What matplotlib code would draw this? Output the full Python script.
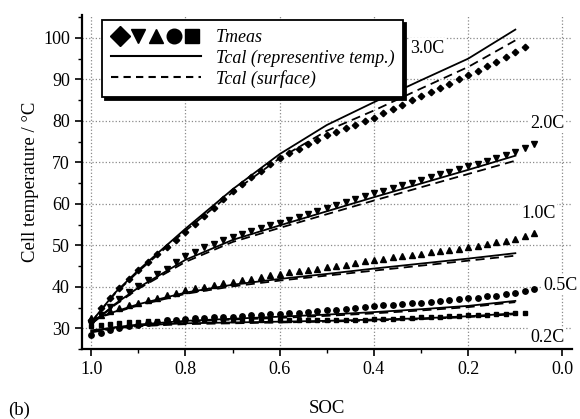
import matplotlib
matplotlib.use('Agg')
import matplotlib.pyplot as plt
from matplotlib.lines import Line2D
from matplotlib.legend_handler import HandlerTuple
from matplotlib.ticker import MultipleLocator

plt.rcParams['font.family'] = ['Liberation Serif', 'DejaVu Serif']

soc_meas = [1.00, 0.98, 0.96, 0.94, 0.92, 0.90, 0.88, 0.86, 0.84, 0.82,
            0.80, 0.78, 0.76, 0.74, 0.72, 0.70, 0.68, 0.66, 0.64, 0.62,
            0.60, 0.58, 0.56, 0.54, 0.52, 0.50, 0.48, 0.46, 0.44, 0.42,
            0.40, 0.38, 0.36, 0.34, 0.32, 0.30, 0.28, 0.26, 0.24, 0.22,
            0.20, 0.18, 0.16, 0.14, 0.12, 0.10, 0.08, 0.06]

meas_3c = [32.0, 34.8, 37.3, 39.6, 41.9, 44.0, 46.0, 47.9, 49.7, 51.4,
           53.1, 55.1, 57.1, 59.1, 61.1, 63.0, 64.7, 66.4, 68.0, 69.5,
           71.0, 72.2, 73.3, 74.4, 75.5, 76.5, 77.4, 78.2, 79.0, 79.9,
           80.8, 81.8, 82.9, 83.9, 85.0, 86.0, 87.0, 88.0, 89.0, 90.0,
           91.0, 92.1, 93.2, 94.3, 95.4, 96.5, 97.8]
meas_2c = [31.0, 33.2, 35.2, 37.0, 38.7, 40.2, 41.7, 43.1, 44.4, 46.0,
           47.5, 48.5, 49.5, 50.4, 51.2, 52.0, 52.7, 53.4, 54.1, 54.8,
           55.5, 56.2, 56.9, 57.6, 58.3, 59.0, 59.7, 60.4, 61.1, 61.8,
           62.5, 63.2, 63.8, 64.5, 65.1, 65.8, 66.4, 67.1, 67.7, 68.4,
           69.0, 69.7, 70.4, 71.1, 71.8, 72.5, 73.4, 74.5]
meas_1c = [32.5, 33.3, 34.1, 34.8, 35.5, 36.2, 36.8, 37.4, 38.0, 38.6,
           39.2, 39.6, 40.0, 40.4, 40.8, 41.2, 41.6, 42.0, 42.4, 42.8,
           43.2, 43.5, 43.8, 44.1, 44.4, 44.7, 45.0, 45.3, 45.7, 46.1,
           46.5, 46.8, 47.1, 47.4, 47.7, 48.0, 48.3, 48.6, 48.9, 49.2,
           49.5, 49.9, 50.3, 50.7, 51.1, 51.5, 52.2, 53.0]
meas_05c = [28.3, 28.9, 29.5, 30.0, 30.5, 30.9, 31.3, 31.6, 31.9, 32.1,
            32.3, 32.4, 32.5, 32.6, 32.7, 32.8, 32.9, 33.1, 33.2, 33.4,
            33.5, 33.7, 33.8, 34.0, 34.1, 34.3, 34.5, 34.7, 34.9, 35.1,
            35.3, 35.5, 35.7, 35.8, 36.0, 36.2, 36.4, 36.6, 36.8, 37.0,
            37.2, 37.4, 37.7, 37.9, 38.2, 38.5, 39.0, 39.5]
meas_02c = [30.5, 30.7, 31.0, 31.2, 31.4, 31.6, 31.7, 31.8, 31.9, 32.0,
            32.0, 32.0, 31.9, 31.9, 31.9, 31.9, 31.9, 31.9, 31.9, 32.0,
            32.0, 32.0, 32.0, 32.0, 32.0, 32.0, 32.0, 32.0, 32.1, 32.1,
            32.2, 32.3, 32.3, 32.4, 32.5, 32.6, 32.7, 32.8, 32.9, 33.0,
            33.1, 33.2, 33.3, 33.4, 33.5, 33.6, 33.8]

# --- calculated temperatures (lines) ---
soc_cal = [1.0, 0.95, 0.9, 0.8, 0.7, 0.6, 0.5, 0.4, 0.3, 0.2, 0.1]

rep_3c = [31.5, 38.5, 44.0, 54.0, 63.5, 72.0, 79.0, 84.5, 89.8, 95.0, 102.0]
surf_3c = [31.5, 38.3, 43.7, 53.5, 62.8, 71.0, 77.6, 82.5, 87.8, 93.0, 99.4]
rep_2c = [31.0, 35.8, 39.8, 46.5, 51.3, 54.8, 58.2, 61.6, 64.9, 68.2, 71.6]
surf_2c = [31.0, 35.6, 39.5, 46.0, 50.8, 54.2, 57.5, 60.8, 64.0, 67.2, 70.4]
rep_1c = [32.0, 34.0, 35.8, 38.6, 40.5, 41.9, 43.1, 44.4, 45.6, 46.8, 48.1]
surf_1c = [32.0, 33.8, 35.5, 38.3, 40.1, 41.5, 42.7, 43.9, 45.1, 46.3, 47.5]
rep_05c = [29.2, 30.2, 30.9, 31.8, 32.3, 32.8, 33.3, 33.9, 34.6, 35.4, 36.6]
surf_05c = [29.0, 30.0, 30.7, 31.6, 32.1, 32.5, 33.0, 33.6, 34.3, 35.1, 36.3]
rep_02c = [29.5, 30.2, 30.7, 31.2, 31.4, 31.6, 31.8, 32.1, 32.4, 32.9, 33.6]
surf_02c = [29.3, 30.0, 30.5, 31.0, 31.2, 31.4, 31.6, 31.9, 32.2, 32.7, 33.4]

rate_labels = ['3.0C', '2.0C', '1.0C', '0.5C', '0.2C']
label_soc = [0.287, 0.032, 0.051, 0.004, 0.032]
label_temp = [97.5, 79.4, 57.7, 40.4, 27.8]

markers = ['D', 'v', '^', 'o', 's']
msizes = [3.3, 4.2, 4.2, 3.9, 3.5]
measured = [meas_3c, meas_2c, meas_1c, meas_05c, meas_02c]
rep = [rep_3c, rep_2c, rep_1c, rep_05c, rep_02c]
surf = [surf_3c, surf_2c, surf_1c, surf_05c, surf_02c]

fig = plt.figure(figsize=(5.8, 4.19), dpi=100)
ax = fig.add_axes([0.141, 0.167, 0.845, 0.797])

for m, ms, tm, tr, ts in zip(markers, msizes, measured, rep, surf):
    ax.plot(soc_meas[:len(tm)], tm, ls='none', marker=m, ms=ms,
            color='black', zorder=3)
    ax.plot(soc_cal, tr, color='black', lw=1.3, zorder=4)
    ax.plot(soc_cal, ts, color='black', lw=1.3, ls=(0, (5, 3)), zorder=4)

for lab, xs, ys in zip(rate_labels, label_soc, label_temp):
    ax.text(xs, ys, lab, fontsize=13, ha='center', va='center',
            bbox=dict(facecolor='white', edgecolor='none', pad=1),
            zorder=5, clip_on=False)

ax.set_xlim(1.02, -0.02)
ax.set_ylim(25, 105.5)
ax.set_xticks([1.0, 0.8, 0.6, 0.4, 0.2, 0.0])
ax.xaxis.set_minor_locator(MultipleLocator(0.1))
ax.set_yticks([30, 40, 50, 60, 70, 80, 90, 100])
ax.yaxis.set_minor_locator(MultipleLocator(5))
ax.tick_params(which='major', length=5, width=1.2, labelsize=13,
               direction='out')
ax.tick_params(which='minor', length=3, width=1.0, direction='out')
ax.grid(True, which='major', color='#8a8a8a', ls=':', lw=0.9, zorder=0)
ax.set_axisbelow(True)
for s in ['top', 'right']:
    ax.spines[s].set_visible(False)
for s in ['left', 'bottom']:
    ax.spines[s].set_linewidth(1.6)

ax.set_ylabel('Cell temperature / °C', fontsize=13.5, labelpad=3)
ax.set_xlabel('SOC', fontsize=13.5, labelpad=16)
fig.text(0.014, 0.021, '(b)', fontsize=13.5, ha='left', va='center')

# legend
meas_handle = tuple(Line2D([], [], ls='none', marker=m, ms=10.5,
                           color='black') for m in markers)
rep_handle = Line2D([], [], color='black', lw=1.5)
surf_handle = Line2D([], [], color='black', lw=1.5, ls=(0, (3.5, 2.5)))
leg = ax.legend([meas_handle, rep_handle, surf_handle],
                ['Tmeas', 'Tcal (representive temp.)', 'Tcal (surface)'],
                handler_map={tuple: HandlerTuple(ndivide=None, pad=0.0)},
                loc='upper left', bbox_to_anchor=(0.041, 0.985),
                borderaxespad=0.0,
                handlelength=5.0, handletextpad=0.8, labelspacing=0.18,
                borderpad=0.5, fancybox=False, framealpha=1,
                edgecolor='black', prop={'style': 'italic', 'size': 13},
                shadow={'color': 'black', 'alpha': 1.0})
leg.get_frame().set_linewidth(1.3)
leg.set_zorder(6)

fig.savefig('out.png', dpi=100)
